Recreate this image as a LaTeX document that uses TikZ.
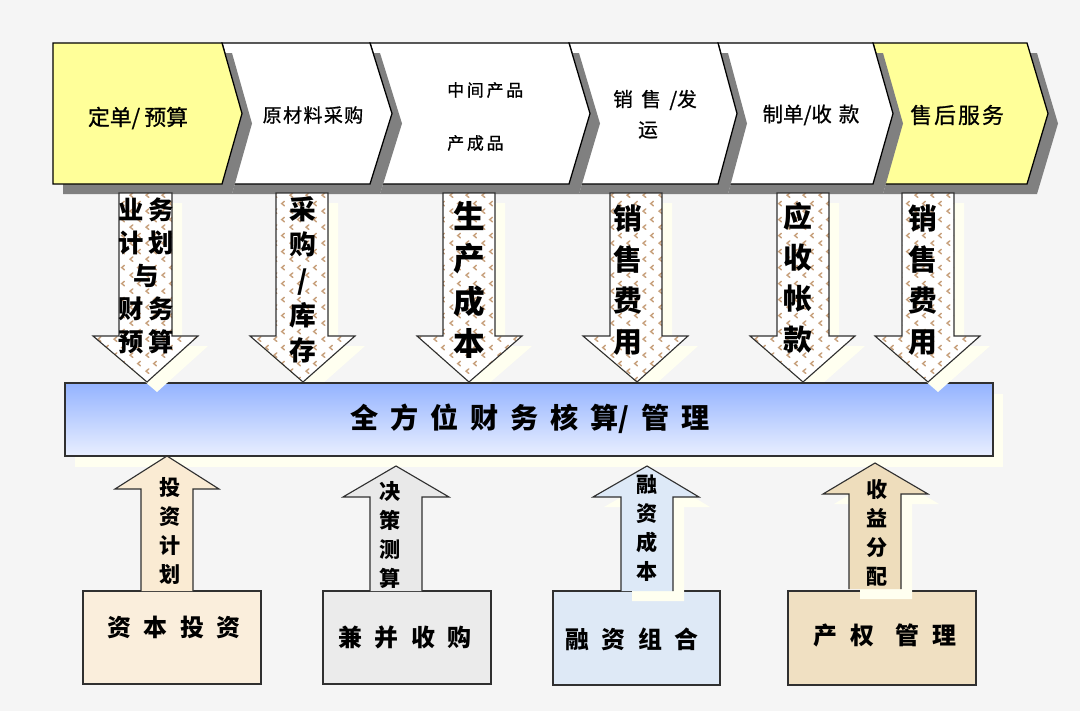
\documentclass[tikz,border=0pt]{standalone}
\usepackage{fontspec}
\newfontfamily\cjk{Noto Sans CJK SC}
\newfontfamily\cjkm[FakeBold=0.9]{Noto Sans CJK SC}
\usetikzlibrary{patterns}
\pgfdeclarepatternformonly{brownmarks}{\pgfqpoint{0pt}{0pt}}{\pgfqpoint{11.4pt}{11.4pt}}{\pgfqpoint{11.4pt}{11.4pt}}{%
  \pgfsetlinewidth{1.1pt}%
  \pgfsetroundcap
  \pgfpathmoveto{\pgfqpoint{3.6pt}{4.6pt}}\pgfpathlineto{\pgfqpoint{1.6pt}{2.9pt}}\pgfpathlineto{\pgfqpoint{3.6pt}{1.2pt}}%
  \pgfpathmoveto{\pgfqpoint{9.3pt}{10.3pt}}\pgfpathlineto{\pgfqpoint{7.3pt}{8.6pt}}\pgfpathlineto{\pgfqpoint{9.3pt}{6.9pt}}%
  \pgfusepath{stroke}}
\definecolor{bg}{HTML}{F5F5F5}
\definecolor{chevy}{HTML}{FFFF99}
\definecolor{shgray}{HTML}{808080}
\definecolor{ivory}{HTML}{FFFFF0}
\definecolor{markbrown}{HTML}{C8A27E}
\definecolor{bartop}{HTML}{94B3FF}
\definecolor{barbot}{HTML}{E9EFFF}
\definecolor{fillA}{HTML}{FAEBD3}
\definecolor{fillB}{HTML}{E9E9E9}
\definecolor{fillC}{HTML}{DDE9F7}
\definecolor{fillD}{HTML}{EEDDBC}
\definecolor{boxA}{HTML}{FAEEDC}
\definecolor{boxB}{HTML}{EBEBEB}
\definecolor{boxC}{HTML}{DEE9F6}
\definecolor{boxD}{HTML}{F0E0C2}
\definecolor{edge}{HTML}{303030}
\newcommand\gp[1]{\hspace{#1}}
\tikzset{
  txt/.style={font=\cjk, inner sep=0pt, text=black},
  chevline/.style={draw=black, line width=0.9pt},
  downarrow/.style={draw=edge, line width=0.8pt, preaction={fill=white}, pattern=brownmarks, pattern color=markbrown},
  uparrow/.style={draw=edge, line width=0.8pt},
  boxline/.style={draw=edge, line width=0.8pt},
}
\begin{document}
\begin{tikzpicture}[x=0.025cm,y=-0.025cm, line join=miter]
\useasboundingbox (0,0) rectangle (1080,711);
\fill[bg] (0,0) rectangle (1080,711);

% chevrons (drawn right to left, each with its shadow)
\foreach \l/\lt/\r/\t/\c in {873/893/1027/1048/chevy, 718/737/873/893/white, 569/590/718/737/white, 370/392/569/590/white, 222/242/370/392/white, 53/53/222/242/chevy}{
  \fill[shgray, shift={(10,10)}] (\l,43) -- (\r,43) -- (\t,113.5) -- (\r,184) -- (\l,184) -- (\lt,113.5) -- cycle;
  \fill[\c, chevline] (\l,43) -- (\r,43) -- (\t,113.5) -- (\r,184) -- (\l,184) -- (\lt,113.5) -- cycle;
}
\node[txt, font=\cjkm\fontsize{15.5}{18}\selectfont] (c1) at (138,118) {定单/\gp{3pt}预算};
\node[txt, font=\cjkm\fontsize{13.5}{16}\selectfont] (c2) at (313,115) {原\gp{1pt}材\gp{1pt}料\gp{1pt}采\gp{1pt}购};
\node[txt, font=\cjkm\fontsize{12}{14}\selectfont, anchor=west] (c3a) at (447,90) {中\gp{2pt}间\gp{2pt}产\gp{2pt}品};
\node[txt, font=\cjkm\fontsize{12}{14}\selectfont, anchor=west] (c3b) at (447,143) {产\gp{2pt}成\gp{2pt}品};
\node[txt, font=\cjkm\fontsize{14}{16}\selectfont] (c4a) at (655,100) {销\gp{6pt}售\gp{6pt}/发};
\node[txt, font=\cjkm\fontsize{14}{16}\selectfont] (c4b) at (648,130) {运};
\node[txt, font=\cjkm\fontsize{14.5}{16}\selectfont] (c5) at (811,115) {制单/收\gp{5pt}款};
\node[txt, font=\cjkm\fontsize{15.5}{18}\selectfont] (c6) at (957,115) {售\gp{1.5pt}后\gp{1.5pt}服\gp{1.5pt}务};

% down arrow shadows (behind bar)
\foreach \xl/\xr/\hl/\hr/\tp in {276/328/250/355/303, 443/495/417/522/469, 610/662/583/688/637, 777/829/750/855/803}{
  \fill[ivory, shift={(10,10)}] (\xl,193) -- (\xr,193) -- (\xr,336) -- (\hr,336) -- (\tp,382) -- (\hl,336) -- (\xl,336) -- cycle;
}

% central bar
\fill[ivory] (75,394) rectangle (1003,467);
\shade[top color=bartop, bottom color=barbot] (65,383) rectangle (993,456);
\draw[edge, line width=1pt] (65,383) rectangle (993,456);
\node[txt, font=\cjk\bfseries\fontsize{20}{24}\selectfont] (bar) at (530,419)
  {全\gp{8.5pt}方\gp{8.5pt}位\gp{8.5pt}财\gp{8.5pt}务\gp{8.5pt}核\gp{8.5pt}算/\gp{8.5pt}管\gp{8.5pt}理};

% shadows of the outer down arrows (over the bar)
\foreach \xl/\xr/\hl/\hr/\tp in {119/172/93/198/147, 902/954/875/980/928}{
  \fill[ivory, shift={(10,10)}] (\xl,193) -- (\xr,193) -- (\xr,336) -- (\hr,336) -- (\tp,382) -- (\hl,336) -- (\xl,336) -- cycle;
}

% down arrows
\foreach \xl/\xr/\hl/\hr/\tp in {119/172/93/198/147, 276/328/250/355/303, 443/495/417/522/469, 610/662/583/688/637, 777/829/750/855/803, 902/954/875/980/928}{
  \path[downarrow] (\xl,193) -- (\xr,193) -- (\xr,336) -- (\hr,336) -- (\tp,382) -- (\hl,336) -- (\xl,336) -- cycle;
}
\node[txt, font=\cjk\bfseries\fontsize{18}{23.5}\selectfont, align=center] (d1) at (146,276)
  {业\gp{3pt}务\\计\gp{3pt}划\\与\\财\gp{3pt}务\\预\gp{3pt}算};
\node[txt, font=\cjk\bfseries\fontsize{19}{25}\selectfont, align=center] (d2) at (303,280)
  {采\\购\\/\\库\\存};
\node[txt, font=\cjk\bfseries\fontsize{22.5}{30}\selectfont, align=center] (d3) at (469,280)
  {生\\产\\成\\本};
\node[txt, font=\cjk\bfseries\fontsize{20.5}{29}\selectfont, align=center] (d4) at (628,280)
  {销\\售\\费\\用};
\node[txt, font=\cjk\bfseries\fontsize{20.5}{29}\selectfont, align=center] (d5) at (798,278)
  {应\\收\\帐\\款};
\node[txt, font=\cjk\bfseries\fontsize{20.5}{29}\selectfont, align=center] (d6) at (923,280)
  {销\\售\\费\\用};

% bottom boxes and up arrows
\fill[boxA, boxline] (83,591) rectangle (261,684);
\fill[boxB, boxline] (323,591) rectangle (491,684);
\fill[boxC, boxline] (553,591) rectangle (720,685);
\fill[boxD, boxline] (788,591) rectangle (976,685);

\fill[fillA, uparrow] (141,591) -- (141,489) -- (115,489) -- (167,456) -- (219,489) -- (193,489) -- (193,591);
\fill[fillB, uparrow] (370,591) -- (370,497) -- (343,497) -- (396,466) -- (449,497) -- (422,497) -- (422,591);
\fill[ivory, shift={(11,10)}] (621,591) -- (621,497) -- (593,497) -- (647,466) -- (699,497) -- (673,497) -- (673,591) -- cycle;
\fill[fillC, uparrow] (621,591) -- (621,497) -- (593,497) -- (647,466) -- (699,497) -- (673,497) -- (673,591);
\fill[ivory, shift={(11,10)}] (849,589) -- (849,494) -- (823,494) -- (875,463) -- (928,494) -- (901,494) -- (901,589) -- cycle;
\fill[fillD, uparrow] (849,589) -- (849,494) -- (823,494) -- (875,463) -- (928,494) -- (901,494) -- (901,589);

\node[txt, font=\cjk\bfseries\fontsize{15}{20.6}\selectfont, align=center] (u1) at (170,531) {投\\资\\计\\划};
\node[txt, font=\cjk\bfseries\fontsize{15}{20.6}\selectfont, align=center] (u2) at (390,535) {决\\策\\测\\算};
\node[txt, font=\cjk\bfseries\fontsize{15}{20.6}\selectfont, align=center] (u3) at (647,528) {融\\资\\成\\本};
\node[txt, font=\cjk\bfseries\fontsize{15}{20.6}\selectfont, align=center] (u4) at (877,533) {收\\益\\分\\配};

\node[txt, font=\cjk\bfseries\fontsize{17}{20}\selectfont] (b1) at (174,627) {资\gp{9pt}本\gp{9pt}投\gp{9pt}资};
\node[txt, font=\cjk\bfseries\fontsize{17}{20}\selectfont] (b2) at (405,637) {兼\gp{9pt}并\gp{9pt}收\gp{9pt}购};
\node[txt, font=\cjk\bfseries\fontsize{17}{20}\selectfont] (b3) at (632,639) {融\gp{9pt}资\gp{9pt}组\gp{9pt}合};
\node[txt, font=\cjk\bfseries\fontsize{17}{20}\selectfont] (b4) at (885,635) {产\gp{9pt}权\gp{15pt}管\gp{9pt}理};
\end{tikzpicture}
\end{document}
